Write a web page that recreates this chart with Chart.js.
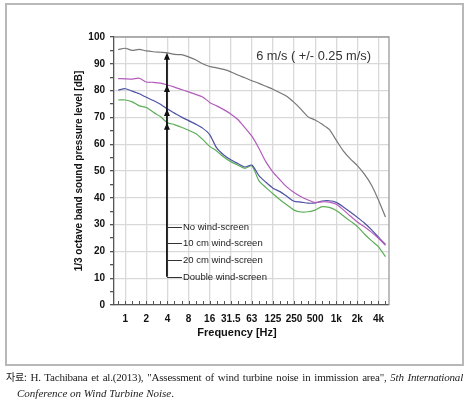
<!DOCTYPE html>
<html>
<head>
<meta charset="utf-8">
<script src="https://cdn.jsdelivr.net/npm/chart.js@4.4.0/dist/chart.umd.min.js"></script>
<style>
  html, body { margin: 0; padding: 0; background: #fff; }
  body { width: 473px; height: 405px; position: relative; overflow: hidden; }
  #frame { position: absolute; left: 5px; top: 3px; width: 455px; height: 359px; border: 2px solid #b8b8b8; }
  #wrap { position: absolute; left: 0; top: 0; width: 473px; height: 370px; }
  .cap { position: absolute; font-family: "Liberation Serif", "DejaVu Serif", serif; font-size: 11px; line-height: 14px; color: #222; letter-spacing: -0.2px; }
  #cap1 { left: 6px; top: 370px; width: 457px; text-align: justify; text-align-last: justify; }
  #cap2 { left: 17px; top: 386px; white-space: nowrap; letter-spacing: 0; }
  .ko { font-family: "Noto Sans CJK KR", sans-serif; font-size: 10px; }
</style>
</head>
<body>
<div id="frame"></div>
<div id="wrap"><canvas id="chart" width="473" height="370"></canvas></div>
<div class="cap" id="cap1"><span class="ko">자료:</span> H. Tachibana et al.(2013), "Assessment of wind turbine noise in immission area", <i>5th International</i></div>
<div class="cap" id="cap2"><i>Conference on Wind Turbine Noise</i>.</div>

<script>
// ===== Bandas de 1/3 de oitava (0.8 Hz .. 5 kHz)
const freqLabels = ['0.8', '1', '1.25', '1.6', '2', '2.5', '3.15', '4', '5', '6.3', '8', '10', '12.5',
    '16', '20', '25', '31.5', '40', '50', '63', '80', '100', '125', '160', '200', '250', '315', '400',
    '500', '630', '800', '1k', '1.25k', '1.6k', '2k', '2.5k', '3.15k', '4k', '5k'];
const octaveLabels = ['1', '2', '4', '8', '16', '31.5', '63', '125', '250', '500', '1k', '2k', '4k'];

// ===== Séries (dB)
const seriesNames = ['No wind-screen', '10 cm wind-screen', '20 cm wind-screen', 'Double wind-screen'];
const noScreen = [95.3, 95.8, 95.0, 95.4, 94.8, 94.5, 94.3, 94.1, 93.5, 93.4, 92.6, 91.5, 90.0,
    89.0, 88.5, 87.9, 87.0, 85.8, 84.8, 83.7, 82.7, 81.6, 80.5, 79.2, 77.8, 75.6, 73.0, 70.2,
    69.0, 67.4, 65.5, 61.5, 57.5, 54.5, 52.0, 48.8, 44.8, 39.2, 32.8];
const cm10Screen = [84.5, 84.4, 84.3, 84.6, 83.2, 83.1, 82.8, 82.1, 81.3, 80.4, 79.5, 78.6, 77.6,
    75.6, 74.3, 72.9, 71.3, 69.2, 66.2, 63.0, 58.5, 53.4, 49.6, 46.7, 44.0, 42.0, 40.4, 39.2,
    38.2, 38.5, 38.4, 37.6, 35.5, 33.2, 31.0, 29.2, 27.2, 24.9, 22.3];
const cm20Screen = [80.2, 80.7, 79.8, 78.8, 77.5, 76.3, 74.9, 73.1, 71.6, 70.1, 68.8, 67.5, 66.0,
    63.6, 58.6, 56.0, 54.2, 52.8, 51.5, 52.2, 48.3, 45.8, 43.6, 42.3, 40.5, 38.7, 38.4, 38.0,
    38.1, 38.8, 38.9, 38.3, 36.6, 34.7, 32.7, 30.6, 28.1, 25.3, 22.6];
const doubleScreen = [76.5, 76.5, 75.8, 74.3, 73.7, 71.9, 70.3, 68.0, 67.3, 66.3, 65.2, 64.0, 61.8,
    59.2, 57.5, 55.2, 53.5, 52.2, 51.0, 51.9, 46.4, 43.8, 41.5, 39.3, 37.3, 35.4, 34.7, 34.8,
    35.4, 36.7, 36.4, 35.3, 33.3, 31.3, 29.3, 26.5, 24.0, 21.7, 18.0];

const seriesColors = ['#777777', '#b35bbd', '#4d52a3', '#5cae57'];
const allSeries = [noScreen, cm10Screen, cm20Screen, doubleScreen];

// ===== Anotação (seta em 4 Hz + rótulos)
const arrowBand = freqLabels.indexOf('4');
const labelLevels = [29.1, 23.0, 16.8, 10.5];
const FONT = '"Liberation Sans", Arial, sans-serif';

const octaveIdx = octaveLabels.map(l => freqLabels.indexOf(l));

const overlay = {
    id: 'overlay',
    afterDatasetsDraw(chart) {
        const { ctx, chartArea: a, scales: { x, y } } = chart;
        ctx.save();

        // borda superior/direita
        ctx.strokeStyle = '#9a9a9a';
        ctx.lineWidth = 1.3;
        ctx.beginPath();
        ctx.moveTo(a.left, a.top); ctx.lineTo(a.right, a.top); ctx.lineTo(a.right, a.bottom);
        ctx.stroke();

        // ticks menores (1/3 oitava) para dentro
        ctx.strokeStyle = '#555';
        ctx.lineWidth = 1;
        freqLabels.forEach((_, i) => {
            const px = Math.round(x.getPixelForValue(i)) + 0.5;
            ctx.beginPath(); ctx.moveTo(px, a.bottom); ctx.lineTo(px, a.bottom - 4); ctx.stroke();
        });

        // seta vertical
        const ax = x.getPixelForValue(arrowBand) - 0.5;
        const yTop = y.getPixelForValue(noScreen[arrowBand]);
        const yBot = y.getPixelForValue(labelLevels[labelLevels.length - 1]);
        ctx.strokeStyle = '#111';
        ctx.fillStyle = '#111';
        ctx.lineWidth = 1.8;
        ctx.beginPath(); ctx.moveTo(ax, yBot); ctx.lineTo(ax, yTop + 3); ctx.stroke();
        allSeries.forEach(s => {
            const ty = y.getPixelForValue(s[arrowBand]);
            ctx.beginPath();
            ctx.moveTo(ax, ty);
            ctx.lineTo(ax - 3, ty + 7);
            ctx.lineTo(ax + 3, ty + 7);
            ctx.closePath();
            ctx.fill();
        });

        // rótulos
        ctx.lineWidth = 1;
        ctx.strokeStyle = '#333';
        ctx.fillStyle = '#222';
        ctx.font = `9.5px ${FONT}`;
        ctx.textBaseline = 'middle';
        ctx.textAlign = 'left';
        seriesNames.forEach((n, i) => {
            const ly = Math.round(y.getPixelForValue(labelLevels[i])) + 0.5;
            ctx.beginPath(); ctx.moveTo(ax, ly); ctx.lineTo(ax + 15, ly); ctx.stroke();
            ctx.fillText(n, ax + 16, ly);
        });

        // título interno
        ctx.font = `12.8px ${FONT}`;
        ctx.fillStyle = '#333';
        ctx.textAlign = 'right';
        ctx.fillText('6 m/s ( +/- 0.25 m/s)', a.right - 18, a.top + 19);

        // título eixo x
        ctx.font = `bold 11px ${FONT}`;
        ctx.fillStyle = '#111';
        ctx.textAlign = 'center';
        ctx.fillText('Frequency [Hz]', a.left + 123, a.bottom + 28);

        ctx.restore();
    }
};

new Chart(document.getElementById('chart'), {
    type: 'line',
    data: {
        datasets: allSeries.map((s, i) => ({
            label: seriesNames[i],
            data: s.map((v, k) => ({ x: k, y: v })),
            borderColor: seriesColors[i],
            borderWidth: 1.2,
            pointRadius: 0,
            tension: 0.25,
            fill: false
        }))
    },
    options: {
        responsive: false,
        animation: false,
        layout: { padding: { left: 69, right: 84, top: 37, bottom: 0 } },
        plugins: { legend: { display: false }, tooltip: { enabled: false } },
        scales: {
            x: {
                type: 'linear', min: -0.6, max: 38.5,
                afterBuildTicks: s => { s.ticks = octaveIdx.map(v => ({ value: v })); },
                afterFit: s => { s.height = 65; },
                ticks: {
                    autoSkip: false, maxRotation: 0, padding: 8,
                    callback: v => freqLabels[v],
                    font: { family: FONT, size: 10, weight: 'bold' }, color: '#111'
                },
                grid: { color: '#d9d9d9', lineWidth: 1.3, drawTicks: false },
                border: { color: '#555', width: 1.3 }
            },
            y: {
                min: 0, max: 100,
                afterFit: s => { s.width = 45; },
                ticks: {
                    stepSize: 5, autoSkip: false, padding: 5,
                    callback: v => (v % 10 === 0 ? v : ''),
                    font: { family: FONT, size: 10, weight: 'bold' }, color: '#111'
                },
                grid: {
                    color: c => (c.tick && c.tick.value % 10 === 0 ? '#d9d9d9' : 'rgba(0,0,0,0)'),
                    tickColor: '#555', tickLength: 4, lineWidth: 1.3
                },
                border: { color: '#555', width: 1.3 },
                title: {
                    display: true, text: '1/3 octave band sound pressure level [dB]',
                    font: { family: FONT, size: 10, weight: 'bold' }, color: '#111',
                    padding: { top: 4, bottom: 0 }
                }
            }
        }
    },
    plugins: [overlay]
});
</script>
</body>
</html>
